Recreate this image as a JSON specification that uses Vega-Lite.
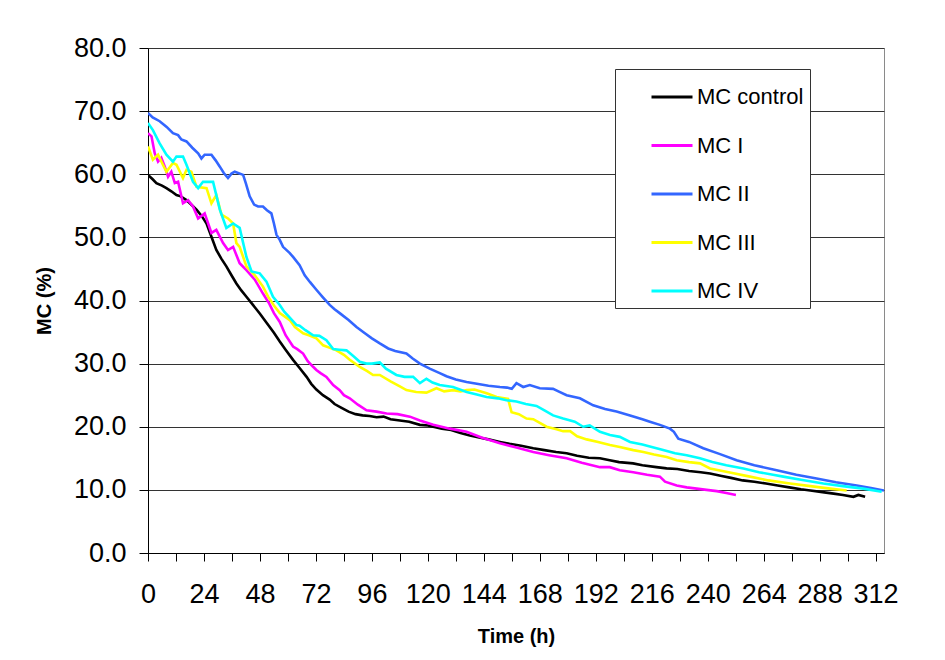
{
  "$schema": "https://vega.github.io/schema/vega-lite/v6.json",
  "autosize": "none",
  "width": 736,
  "height": 505,
  "padding": {"left": 148, "top": 48, "right": 61, "bottom": 107},
  "background": "white",
  "config": {
    "font": "Liberation Sans",
    "view": {"stroke": "#8a8a8a", "strokeWidth": 1}
  },
  "data": {"values": [
{"s":"MC control","t":0,"v":59.9},{"s":"MC control","t":2,"v":59.2},{"s":"MC control","t":3.6,"v":58.6},{"s":"MC control","t":6,"v":58.2},{"s":"MC control","t":7.9,"v":57.8},{"s":"MC control","t":10,"v":57.3},{"s":"MC control","t":12.2,"v":56.7},{"s":"MC control","t":14,"v":56.5},{"s":"MC control","t":16.5,"v":55.9},{"s":"MC control","t":18.5,"v":55.2},{"s":"MC control","t":20.8,"v":54.4},{"s":"MC control","t":23,"v":53.4},{"s":"MC control","t":25.1,"v":52.2},{"s":"MC control","t":27.2,"v":50.1},{"s":"MC control","t":29.3,"v":48.0},{"s":"MC control","t":31.5,"v":46.6},{"s":"MC control","t":33.6,"v":45.4},{"s":"MC control","t":35.8,"v":44.0},{"s":"MC control","t":37.9,"v":42.7},{"s":"MC control","t":40,"v":41.6},{"s":"MC control","t":42.2,"v":40.6},{"s":"MC control","t":45,"v":39.3},{"s":"MC control","t":48,"v":37.9},{"s":"MC control","t":51,"v":36.4},{"s":"MC control","t":54,"v":34.9},{"s":"MC control","t":56.5,"v":33.5},{"s":"MC control","t":59,"v":32.2},{"s":"MC control","t":62.2,"v":30.6},{"s":"MC control","t":65,"v":29.3},{"s":"MC control","t":68,"v":27.9},{"s":"MC control","t":70,"v":26.8},{"s":"MC control","t":72.2,"v":25.9},{"s":"MC control","t":75,"v":25.0},{"s":"MC control","t":77.9,"v":24.3},{"s":"MC control","t":80,"v":23.6},{"s":"MC control","t":83,"v":23.0},{"s":"MC control","t":86,"v":22.4},{"s":"MC control","t":89,"v":22.0},{"s":"MC control","t":92,"v":21.8},{"s":"MC control","t":95,"v":21.7},{"s":"MC control","t":98,"v":21.5},{"s":"MC control","t":101,"v":21.6},{"s":"MC control","t":104,"v":21.2},{"s":"MC control","t":108,"v":21.0},{"s":"MC control","t":112,"v":20.8},{"s":"MC control","t":116.6,"v":20.3},{"s":"MC control","t":120,"v":20.2},{"s":"MC control","t":122.3,"v":20.0},{"s":"MC control","t":126,"v":19.7},{"s":"MC control","t":130,"v":19.5},{"s":"MC control","t":134,"v":19.0},{"s":"MC control","t":138,"v":18.6},{"s":"MC control","t":142,"v":18.3},{"s":"MC control","t":146,"v":18.0},{"s":"MC control","t":150.9,"v":17.6},{"s":"MC control","t":155,"v":17.3},{"s":"MC control","t":160,"v":17.0},{"s":"MC control","t":165.2,"v":16.6},{"s":"MC control","t":170,"v":16.3},{"s":"MC control","t":175,"v":16.0},{"s":"MC control","t":179.5,"v":15.8},{"s":"MC control","t":184,"v":15.4},{"s":"MC control","t":189,"v":15.1},{"s":"MC control","t":193.8,"v":15.0},{"s":"MC control","t":198,"v":14.7},{"s":"MC control","t":202,"v":14.4},{"s":"MC control","t":208,"v":14.2},{"s":"MC control","t":212,"v":13.9},{"s":"MC control","t":218,"v":13.6},{"s":"MC control","t":222.4,"v":13.4},{"s":"MC control","t":227,"v":13.3},{"s":"MC control","t":232,"v":13.0},{"s":"MC control","t":237,"v":12.8},{"s":"MC control","t":241,"v":12.6},{"s":"MC control","t":246,"v":12.2},{"s":"MC control","t":250,"v":11.9},{"s":"MC control","t":255,"v":11.5},{"s":"MC control","t":260,"v":11.3},{"s":"MC control","t":265,"v":11.0},{"s":"MC control","t":270,"v":10.7},{"s":"MC control","t":275,"v":10.4},{"s":"MC control","t":280,"v":10.1},{"s":"MC control","t":284,"v":9.9},{"s":"MC control","t":290,"v":9.6},{"s":"MC control","t":294,"v":9.4},{"s":"MC control","t":298,"v":9.2},{"s":"MC control","t":302.5,"v":8.9},{"s":"MC control","t":304.6,"v":9.2},{"s":"MC control","t":307.5,"v":8.9},
{"s":"MC I","t":0,"v":66.5},{"s":"MC I","t":1.5,"v":66.0},{"s":"MC I","t":2.9,"v":63.3},{"s":"MC I","t":4.3,"v":62.0},{"s":"MC I","t":5.7,"v":62.6},{"s":"MC I","t":7.2,"v":61.2},{"s":"MC I","t":8.6,"v":59.6},{"s":"MC I","t":10,"v":60.4},{"s":"MC I","t":11.5,"v":58.6},{"s":"MC I","t":12.9,"v":58.8},{"s":"MC I","t":15,"v":55.4},{"s":"MC I","t":17.2,"v":55.9},{"s":"MC I","t":19.3,"v":54.9},{"s":"MC I","t":21.5,"v":53.0},{"s":"MC I","t":24.3,"v":53.8},{"s":"MC I","t":27.2,"v":50.7},{"s":"MC I","t":29.3,"v":51.2},{"s":"MC I","t":32.2,"v":49.1},{"s":"MC I","t":34.3,"v":48.0},{"s":"MC I","t":36.5,"v":48.5},{"s":"MC I","t":39.3,"v":45.9},{"s":"MC I","t":42.2,"v":44.8},{"s":"MC I","t":45.8,"v":43.3},{"s":"MC I","t":49.3,"v":41.1},{"s":"MC I","t":52,"v":39.5},{"s":"MC I","t":54,"v":38.0},{"s":"MC I","t":56.5,"v":36.6},{"s":"MC I","t":59,"v":34.5},{"s":"MC I","t":62.2,"v":32.7},{"s":"MC I","t":64,"v":32.3},{"s":"MC I","t":66.5,"v":31.6},{"s":"MC I","t":68.5,"v":30.4},{"s":"MC I","t":70.8,"v":29.5},{"s":"MC I","t":72.2,"v":29.0},{"s":"MC I","t":74,"v":28.5},{"s":"MC I","t":76.5,"v":27.9},{"s":"MC I","t":79.4,"v":26.6},{"s":"MC I","t":82.2,"v":25.8},{"s":"MC I","t":84,"v":25.0},{"s":"MC I","t":86.5,"v":24.5},{"s":"MC I","t":90,"v":23.5},{"s":"MC I","t":93.7,"v":22.6},{"s":"MC I","t":98,"v":22.4},{"s":"MC I","t":102.3,"v":22.1},{"s":"MC I","t":107,"v":22.0},{"s":"MC I","t":112.3,"v":21.6},{"s":"MC I","t":116.6,"v":21.0},{"s":"MC I","t":122.3,"v":20.3},{"s":"MC I","t":129.4,"v":19.7},{"s":"MC I","t":136.6,"v":19.2},{"s":"MC I","t":143,"v":18.3},{"s":"MC I","t":150.9,"v":17.4},{"s":"MC I","t":158,"v":16.7},{"s":"MC I","t":165.2,"v":16.0},{"s":"MC I","t":172,"v":15.5},{"s":"MC I","t":179.5,"v":15.0},{"s":"MC I","t":186,"v":14.3},{"s":"MC I","t":193.8,"v":13.6},{"s":"MC I","t":198,"v":13.6},{"s":"MC I","t":202.3,"v":13.1},{"s":"MC I","t":208.1,"v":12.8},{"s":"MC I","t":214,"v":12.4},{"s":"MC I","t":219.5,"v":12.1},{"s":"MC I","t":221.7,"v":11.3},{"s":"MC I","t":226.7,"v":10.7},{"s":"MC I","t":231,"v":10.4},{"s":"MC I","t":235.3,"v":10.2},{"s":"MC I","t":239.5,"v":10.0},{"s":"MC I","t":243.9,"v":9.8},{"s":"MC I","t":248,"v":9.5},{"s":"MC I","t":252.1,"v":9.2},
{"s":"MC II","t":0,"v":69.7},{"s":"MC II","t":2,"v":69.0},{"s":"MC II","t":5,"v":68.4},{"s":"MC II","t":8,"v":67.5},{"s":"MC II","t":10.7,"v":66.5},{"s":"MC II","t":12.9,"v":66.2},{"s":"MC II","t":14.3,"v":65.5},{"s":"MC II","t":16.5,"v":65.2},{"s":"MC II","t":19,"v":64.2},{"s":"MC II","t":21.5,"v":63.3},{"s":"MC II","t":22.9,"v":62.5},{"s":"MC II","t":24.3,"v":63.1},{"s":"MC II","t":27.2,"v":63.1},{"s":"MC II","t":29,"v":62.2},{"s":"MC II","t":30.8,"v":61.2},{"s":"MC II","t":32.5,"v":60.2},{"s":"MC II","t":34.3,"v":59.4},{"s":"MC II","t":35.8,"v":60.1},{"s":"MC II","t":37.2,"v":60.4},{"s":"MC II","t":40.8,"v":59.9},{"s":"MC II","t":42,"v":58.5},{"s":"MC II","t":43.6,"v":56.5},{"s":"MC II","t":45.5,"v":55.2},{"s":"MC II","t":47.2,"v":54.9},{"s":"MC II","t":49.3,"v":54.9},{"s":"MC II","t":51,"v":54.3},{"s":"MC II","t":52.9,"v":53.8},{"s":"MC II","t":54,"v":52.2},{"s":"MC II","t":55.1,"v":50.4},{"s":"MC II","t":56.5,"v":49.6},{"s":"MC II","t":57.9,"v":48.5},{"s":"MC II","t":60.8,"v":47.5},{"s":"MC II","t":62.2,"v":46.9},{"s":"MC II","t":65,"v":45.6},{"s":"MC II","t":67.2,"v":44.0},{"s":"MC II","t":69.5,"v":42.9},{"s":"MC II","t":72.2,"v":41.7},{"s":"MC II","t":75,"v":40.5},{"s":"MC II","t":77.9,"v":39.3},{"s":"MC II","t":80,"v":38.6},{"s":"MC II","t":82.2,"v":38.0},{"s":"MC II","t":86,"v":36.9},{"s":"MC II","t":89.4,"v":35.8},{"s":"MC II","t":93,"v":34.8},{"s":"MC II","t":96,"v":34.0},{"s":"MC II","t":99.4,"v":33.2},{"s":"MC II","t":103,"v":32.4},{"s":"MC II","t":106,"v":32.0},{"s":"MC II","t":110.8,"v":31.6},{"s":"MC II","t":113.5,"v":30.8},{"s":"MC II","t":116.6,"v":30.0},{"s":"MC II","t":120.8,"v":29.2},{"s":"MC II","t":125.1,"v":28.5},{"s":"MC II","t":128,"v":28.0},{"s":"MC II","t":132,"v":27.5},{"s":"MC II","t":136.6,"v":27.1},{"s":"MC II","t":141,"v":26.8},{"s":"MC II","t":146,"v":26.5},{"s":"MC II","t":150.9,"v":26.3},{"s":"MC II","t":154,"v":26.2},{"s":"MC II","t":156,"v":26.0},{"s":"MC II","t":158,"v":26.9},{"s":"MC II","t":160.9,"v":26.3},{"s":"MC II","t":163.7,"v":26.6},{"s":"MC II","t":168,"v":26.1},{"s":"MC II","t":173.7,"v":26.0},{"s":"MC II","t":176,"v":25.6},{"s":"MC II","t":179.5,"v":25.0},{"s":"MC II","t":185.2,"v":24.5},{"s":"MC II","t":190.9,"v":23.4},{"s":"MC II","t":196,"v":22.8},{"s":"MC II","t":200.9,"v":22.4},{"s":"MC II","t":206.7,"v":21.8},{"s":"MC II","t":212,"v":21.2},{"s":"MC II","t":215.2,"v":20.8},{"s":"MC II","t":219.5,"v":20.3},{"s":"MC II","t":223.8,"v":19.7},{"s":"MC II","t":225.5,"v":19.2},{"s":"MC II","t":227.4,"v":18.1},{"s":"MC II","t":232,"v":17.6},{"s":"MC II","t":238.1,"v":16.6},{"s":"MC II","t":245,"v":15.7},{"s":"MC II","t":252.4,"v":14.7},{"s":"MC II","t":260,"v":13.9},{"s":"MC II","t":269.6,"v":13.1},{"s":"MC II","t":278,"v":12.4},{"s":"MC II","t":286.7,"v":11.8},{"s":"MC II","t":295,"v":11.2},{"s":"MC II","t":303.9,"v":10.7},{"s":"MC II","t":310,"v":10.3},{"s":"MC II","t":315.6,"v":9.9},
{"s":"MC III","t":0,"v":64.4},{"s":"MC III","t":2.1,"v":62.3},{"s":"MC III","t":4.3,"v":63.1},{"s":"MC III","t":6.4,"v":61.5},{"s":"MC III","t":7.9,"v":60.4},{"s":"MC III","t":10.7,"v":61.8},{"s":"MC III","t":12.2,"v":61.5},{"s":"MC III","t":15,"v":59.4},{"s":"MC III","t":16.5,"v":60.7},{"s":"MC III","t":18.6,"v":60.4},{"s":"MC III","t":20.8,"v":58.0},{"s":"MC III","t":25.1,"v":57.8},{"s":"MC III","t":27.2,"v":55.4},{"s":"MC III","t":29.3,"v":56.7},{"s":"MC III","t":31.5,"v":53.6},{"s":"MC III","t":34.3,"v":53.0},{"s":"MC III","t":36.5,"v":52.2},{"s":"MC III","t":37.9,"v":49.1},{"s":"MC III","t":39.3,"v":48.5},{"s":"MC III","t":42.2,"v":45.4},{"s":"MC III","t":45.8,"v":44.0},{"s":"MC III","t":49.3,"v":42.2},{"s":"MC III","t":51.5,"v":40.6},{"s":"MC III","t":54,"v":39.2},{"s":"MC III","t":56.5,"v":38.0},{"s":"MC III","t":60.8,"v":36.9},{"s":"MC III","t":63,"v":35.8},{"s":"MC III","t":66.5,"v":34.8},{"s":"MC III","t":69,"v":34.5},{"s":"MC III","t":72.2,"v":34.0},{"s":"MC III","t":75.1,"v":32.9},{"s":"MC III","t":78,"v":32.5},{"s":"MC III","t":80.8,"v":32.1},{"s":"MC III","t":84,"v":31.4},{"s":"MC III","t":86.5,"v":30.6},{"s":"MC III","t":90.8,"v":29.5},{"s":"MC III","t":94,"v":28.8},{"s":"MC III","t":96.5,"v":28.2},{"s":"MC III","t":99.4,"v":28.2},{"s":"MC III","t":104,"v":27.2},{"s":"MC III","t":108,"v":26.4},{"s":"MC III","t":110.8,"v":25.8},{"s":"MC III","t":115,"v":25.5},{"s":"MC III","t":119.4,"v":25.4},{"s":"MC III","t":123.7,"v":26.1},{"s":"MC III","t":127,"v":25.6},{"s":"MC III","t":130.8,"v":25.8},{"s":"MC III","t":134,"v":25.6},{"s":"MC III","t":136.6,"v":25.8},{"s":"MC III","t":140,"v":25.9},{"s":"MC III","t":145.2,"v":25.3},{"s":"MC III","t":149.5,"v":24.7},{"s":"MC III","t":154.4,"v":24.4},{"s":"MC III","t":155.9,"v":22.3},{"s":"MC III","t":159,"v":22.0},{"s":"MC III","t":162.3,"v":21.3},{"s":"MC III","t":165.2,"v":21.2},{"s":"MC III","t":168,"v":20.6},{"s":"MC III","t":170.9,"v":20.0},{"s":"MC III","t":175.2,"v":19.6},{"s":"MC III","t":178,"v":19.3},{"s":"MC III","t":181,"v":19.3},{"s":"MC III","t":184,"v":18.5},{"s":"MC III","t":188.1,"v":18.0},{"s":"MC III","t":193,"v":17.6},{"s":"MC III","t":198.1,"v":17.1},{"s":"MC III","t":202.3,"v":16.8},{"s":"MC III","t":208.1,"v":16.3},{"s":"MC III","t":212.4,"v":16.0},{"s":"MC III","t":217,"v":15.6},{"s":"MC III","t":222.4,"v":15.2},{"s":"MC III","t":226.7,"v":14.7},{"s":"MC III","t":232,"v":14.4},{"s":"MC III","t":236.7,"v":14.2},{"s":"MC III","t":241,"v":13.4},{"s":"MC III","t":249,"v":12.8},{"s":"MC III","t":258.1,"v":12.1},{"s":"MC III","t":266,"v":11.5},{"s":"MC III","t":275.3,"v":11.0},{"s":"MC III","t":284,"v":10.6},{"s":"MC III","t":292.5,"v":10.2},{"s":"MC III","t":299.6,"v":9.9},
{"s":"MC IV","t":0,"v":68.1},{"s":"MC IV","t":2.1,"v":67.0},{"s":"MC IV","t":5,"v":64.9},{"s":"MC IV","t":7.9,"v":63.1},{"s":"MC IV","t":10.7,"v":62.0},{"s":"MC IV","t":12.2,"v":62.8},{"s":"MC IV","t":15,"v":62.8},{"s":"MC IV","t":16.5,"v":61.5},{"s":"MC IV","t":19.3,"v":58.8},{"s":"MC IV","t":21.5,"v":57.8},{"s":"MC IV","t":23.6,"v":58.8},{"s":"MC IV","t":27.9,"v":58.8},{"s":"MC IV","t":30.8,"v":54.4},{"s":"MC IV","t":33.6,"v":51.5},{"s":"MC IV","t":36.5,"v":52.2},{"s":"MC IV","t":39.3,"v":51.5},{"s":"MC IV","t":42.2,"v":46.9},{"s":"MC IV","t":44.4,"v":44.6},{"s":"MC IV","t":47.9,"v":44.3},{"s":"MC IV","t":50.8,"v":43.0},{"s":"MC IV","t":53.6,"v":40.6},{"s":"MC IV","t":56.5,"v":39.3},{"s":"MC IV","t":58.5,"v":38.2},{"s":"MC IV","t":60.5,"v":37.4},{"s":"MC IV","t":63.7,"v":36.1},{"s":"MC IV","t":65,"v":36.0},{"s":"MC IV","t":67.5,"v":35.3},{"s":"MC IV","t":70.8,"v":34.5},{"s":"MC IV","t":73.5,"v":34.4},{"s":"MC IV","t":76.5,"v":33.7},{"s":"MC IV","t":79.4,"v":32.3},{"s":"MC IV","t":82,"v":32.2},{"s":"MC IV","t":85.1,"v":32.1},{"s":"MC IV","t":88,"v":31.2},{"s":"MC IV","t":90.8,"v":30.3},{"s":"MC IV","t":93.7,"v":30.0},{"s":"MC IV","t":96,"v":30.0},{"s":"MC IV","t":99.4,"v":30.2},{"s":"MC IV","t":102,"v":29.2},{"s":"MC IV","t":106.5,"v":28.2},{"s":"MC IV","t":110,"v":27.9},{"s":"MC IV","t":113.7,"v":27.9},{"s":"MC IV","t":116.6,"v":26.9},{"s":"MC IV","t":119.4,"v":27.6},{"s":"MC IV","t":122,"v":27.0},{"s":"MC IV","t":125.1,"v":26.6},{"s":"MC IV","t":130.8,"v":26.3},{"s":"MC IV","t":136.6,"v":25.5},{"s":"MC IV","t":141,"v":25.1},{"s":"MC IV","t":145.2,"v":24.7},{"s":"MC IV","t":150,"v":24.5},{"s":"MC IV","t":153.7,"v":24.2},{"s":"MC IV","t":158,"v":24.0},{"s":"MC IV","t":162,"v":23.6},{"s":"MC IV","t":166.6,"v":23.3},{"s":"MC IV","t":170,"v":22.6},{"s":"MC IV","t":173.7,"v":21.8},{"s":"MC IV","t":178,"v":21.3},{"s":"MC IV","t":183,"v":20.8},{"s":"MC IV","t":186.6,"v":20.0},{"s":"MC IV","t":189.4,"v":20.2},{"s":"MC IV","t":193.8,"v":19.2},{"s":"MC IV","t":198.1,"v":18.7},{"s":"MC IV","t":202.3,"v":18.4},{"s":"MC IV","t":206.7,"v":17.6},{"s":"MC IV","t":212,"v":17.2},{"s":"MC IV","t":216,"v":16.8},{"s":"MC IV","t":220.9,"v":16.3},{"s":"MC IV","t":226,"v":15.8},{"s":"MC IV","t":231,"v":15.5},{"s":"MC IV","t":236.7,"v":15.0},{"s":"MC IV","t":242,"v":14.4},{"s":"MC IV","t":248,"v":13.9},{"s":"MC IV","t":255.3,"v":13.4},{"s":"MC IV","t":262,"v":12.8},{"s":"MC IV","t":268,"v":12.4},{"s":"MC IV","t":272.4,"v":12.1},{"s":"MC IV","t":280,"v":11.6},{"s":"MC IV","t":289.6,"v":11.0},{"s":"MC IV","t":298,"v":10.6},{"s":"MC IV","t":306.7,"v":10.2},{"s":"MC IV","t":314.6,"v":9.7}
  ]},
  "mark": {"type": "line", "strokeWidth": 2.6, "clip": true},
  "encoding": {
    "x": {
      "field": "t", "type": "quantitative",
      "scale": {"domain": [0, 315.6], "nice": false, "zero": false},
      "axis": {
        "title": "Time (h)",
        "values": [0,12,24,36,48,60,72,84,96,108,120,132,144,156,168,180,192,204,216,228,240,252,264,276,288,300,312],
        "labelExpr": "datum.value % 24 == 0 ? datum.label : ''",
        "format": "d",
        "grid": false,
        "domainColor": "#000000",
        "tickColor": "#000000",
        "tickSize": 8,
        "labelPadding": 20,
        "labelFontSize": 27,
        "labelColor": "#000000",
        "labelOverlap": false,
        "labelBound": false,
        "labelFlush": false,
        "titleFontSize": 20,
        "titleFontWeight": "bold",
        "titleColor": "#000000",
        "titlePadding": 19
      }
    },
    "y": {
      "field": "v", "type": "quantitative",
      "scale": {"domain": [0, 80], "nice": false},
      "axis": {
        "title": "MC (%)",
        "values": [0,10,20,30,40,50,60,70,80],
        "format": ".1f",
        "grid": true,
        "gridColor": "#333333",
        "gridWidth": 1,
        "domainColor": "#000000",
        "tickColor": "#000000",
        "tickSize": 9,
        "labelPadding": 13,
        "labelFontSize": 27,
        "labelColor": "#000000",
        "labelOverlap": false,
        "labelBound": false,
        "labelFlush": false,
        "titleFontSize": 20,
        "titleFontWeight": "bold",
        "titleColor": "#000000",
        "titlePadding": 19
      }
    },
    "color": {
      "field": "s", "type": "nominal",
      "scale": {
        "domain": ["MC control", "MC I", "MC II", "MC III", "MC IV"],
        "range": ["#000000", "#FF00FF", "#3366FF", "#FFFF00", "#00FFFF"]
      },
      "legend": {
        "title": null,
        "orient": "none",
        "legendX": 467,
        "legendY": 21,
        "symbolType": "stroke",
        "symbolSize": 1681,
        "symbolStrokeWidth": 3,
        "labelFontSize": 22,
        "labelColor": "#000000",
        "labelOffset": 3,
        "symbolOffset": 29,
        "padding": 6,
        "rowPadding": 15.5,
        "strokeColor": "#333333",
        "fillColor": "#FFFFFF",
        "labelLimit": 300
      }
    }
  }
}
